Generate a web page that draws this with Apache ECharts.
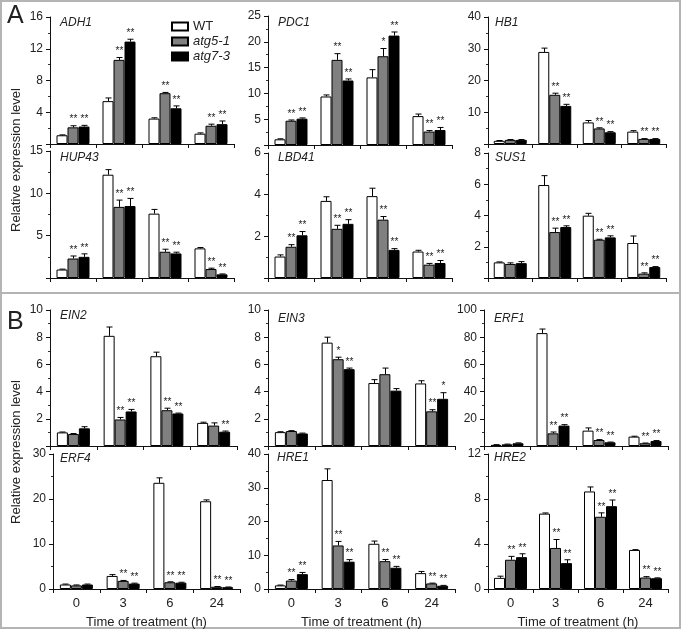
<!DOCTYPE html>
<html><head><meta charset="utf-8">
<script src="https://cdn.jsdelivr.net/npm/echarts@6/dist/echarts.min.js"></script>
<style>html,body{margin:0;padding:0;background:#fff}#c{width:682px;height:630px}</style>
</head><body><div id="c"></div>
<script>
const categories = ['0', '3', '6', '24'];
const seriesNames = ['WT', 'atg5-1', 'atg7-3'];

// means: [WT], [atg5-1], [atg7-3] over categories
const ADH1_mean = [[1.1, 5.4, 3.2, 1.3], [2.1, 10.6, 6.4, 2.3], [2.2, 12.9, 4.5, 2.5]];
const ADH1_err  = [[0.05, 0.4, 0.1, 0.1], [0.2, 0.3, 0.1, 0.2], [0.15, 0.3, 0.3, 0.4]];
const ADH1_sig  = [['', '', '', ''], ['**', '**', '**', '**'], ['**', '**', '**', '**']];

const PDC1_mean = [[1.1, 9.4, 13.1, 5.6], [4.7, 16.5, 17.2, 2.6], [5.1, 12.5, 21.2, 2.9]];
const PDC1_err  = [[0.1, 0.3, 1.5, 0.4], [0.15, 1.2, 1.5, 0.2], [0.15, 0.3, 0.7, 0.5]];
const PDC1_sig  = [['', '', '', ''], ['**', '**', '*', '**'], ['**', '**', '**', '**']];

const HB1_mean = [[1.0, 29.0, 6.8, 3.9], [1.3, 15.5, 4.9, 1.6], [1.3, 12.0, 3.7, 1.6]];
const HB1_err  = [[0.1, 1.2, 0.6, 0.3], [0.1, 0.5, 0.2, 0.1], [0.1, 0.5, 0.2, 0.1]];
const HB1_sig  = [['', '', '', ''], ['', '**', '**', '**'], ['', '**', '**', '**']];

const HUP43_mean = [[1.0, 12.2, 7.6, 3.5], [2.3, 8.4, 3.1, 1.06], [2.5, 8.5, 2.9, 0.43]];
const HUP43_err  = [[0.05, 0.6, 0.5, 0.1], [0.3, 0.8, 0.3, 0.1], [0.35, 0.9, 0.15, 0.05]];
const HUP43_sig  = [['', '', '', ''], ['**', '**', '**', '**'], ['**', '**', '**', '**']];

const LBD41_mean = [[1.03, 3.7, 3.93, 1.27], [1.5, 2.36, 2.8, 0.64], [2.05, 2.6, 1.35, 0.72]];
const LBD41_err  = [[0.08, 0.2, 0.38, 0.06], [0.1, 0.17, 0.15, 0.06], [0.18, 0.2, 0.06, 0.12]];
const LBD41_sig  = [['', '', '', ''], ['**', '**', '**', '**'], ['**', '**', '**', '**']];

const SUS1_mean = [[1.0, 5.95, 3.99, 2.24], [0.9, 2.94, 2.45, 0.28], [0.95, 3.26, 2.6, 0.7]];
const SUS1_err  = [[0.03, 0.6, 0.15, 0.45], [0.07, 0.25, 0.03, 0.05], [0.1, 0.08, 0.1, 0.03]];
const SUS1_sig  = [['', '', '', ''], ['', '**', '**', '**'], ['', '**', '**', '**']];

const EIN2_mean = [[1.0, 8.1, 6.6, 1.7], [0.88, 1.95, 2.63, 1.5], [1.3, 2.54, 2.39, 1.05]];
const EIN2_err  = [[0.03, 0.65, 0.3, 0.05], [0.04, 0.15, 0.15, 0.2], [0.12, 0.15, 0.03, 0.05]];
const EIN2_sig  = [['', '', '', ''], ['', '**', '**', ''], ['', '**', '**', '**']];

const EIN3_mean = [[1.02, 7.6, 4.63, 4.6], [1.1, 6.38, 5.28, 2.55], [0.92, 5.65, 4.07, 3.47]];
const EIN3_err  = [[0.03, 0.4, 0.25, 0.2], [0.03, 0.15, 0.45, 0.12], [0.03, 0.08, 0.15, 0.45]];
const EIN3_sig  = [['', '', '', ''], ['', '*', '', '**'], ['', '**', '', '*']];

const ERF1_mean = [[0.8, 83, 11.3, 6.9], [1.2, 9.3, 4.4, 2.0], [2.0, 15, 2.7, 3.7]];
const ERF1_err  = [[0.2, 3, 2, 0.3], [0.2, 1, 0.3, 0.2], [0.3, 0.7, 0.2, 0.3]];
const ERF1_sig  = [['', '', '', ''], ['', '**', '**', '**'], ['', '**', '**', '**']];

const ERF4_mean = [[1.0, 2.9, 23.6, 19.5], [0.8, 1.8, 1.5, 0.5], [1.0, 1.2, 1.4, 0.4]];
const ERF4_err  = [[0.1, 0.3, 1.1, 0.3], [0.1, 0.1, 0.1, 0.05], [0.1, 0.1, 0.1, 0.05]];
const ERF4_sig  = [['', '', '', ''], ['', '**', '**', '**'], ['', '**', '**', '**']];

const HRE1_mean = [[1.07, 32.3, 13.4, 4.7], [2.5, 12.9, 8.25, 1.65], [4.4, 8.1, 6.3, 0.97]];
const HRE1_err  = [[0.1, 3.3, 0.8, 0.5], [0.3, 1.2, 0.5, 0.1], [0.5, 0.6, 0.4, 0.1]];
const HRE1_sig  = [['', '', '', ''], ['**', '**', '**', '**'], ['**', '**', '**', '**']];

const HRE2_mean = [[0.99, 6.7, 8.67, 3.47], [2.6, 3.65, 6.42, 1.02], [2.83, 2.3, 7.36, 0.96]];
const HRE2_err  = [[0.15, 0.06, 0.4, 0.03], [0.3, 0.75, 0.35, 0.08], [0.3, 0.3, 0.55, 0.03]];
const HRE2_sig  = [['', '', '', ''], ['**', '**', '**', '**'], ['**', '**', '**', '**']];

// y-axis ranges (max, interval)
const yMax = {ADH1: 16, PDC1: 25, HB1: 40, HUP43: 15, LBD41: 6, SUS1: 8, EIN2: 10, EIN3: 10, ERF1: 100, ERF4: 30, HRE1: 40, HRE2: 12};
const yInterval = {ADH1: 4, PDC1: 5, HB1: 10, HUP43: 5, LBD41: 2, SUS1: 2, EIN2: 2, EIN3: 2, ERF1: 20, ERF4: 10, HRE1: 10, HRE2: 4};

const panels = [
  {gene: 'ADH1', mean: ADH1_mean, err: ADH1_err, sig: ADH1_sig, grid: [50, 17, 184, 127], lab: [60, 24], zero: false, xl: false},
  {gene: 'PDC1', mean: PDC1_mean, err: PDC1_err, sig: PDC1_sig, grid: [268, 16, 184, 129], lab: [278, 24], zero: false, xl: false},
  {gene: 'HB1', mean: HB1_mean, err: HB1_err, sig: HB1_sig, grid: [488, 17, 178, 127], lab: [495, 24], zero: false, xl: false},
  {gene: 'HUP43', mean: HUP43_mean, err: HUP43_err, sig: HUP43_sig, grid: [50, 151, 184, 127], lab: [60, 159], zero: false, xl: false},
  {gene: 'LBD41', mean: LBD41_mean, err: LBD41_err, sig: LBD41_sig, grid: [268, 153, 184, 125], lab: [278, 159], zero: false, xl: false},
  {gene: 'SUS1', mean: SUS1_mean, err: SUS1_err, sig: SUS1_sig, grid: [488, 153, 178, 125], lab: [495, 159], zero: false, xl: false},
  {gene: 'EIN2', mean: EIN2_mean, err: EIN2_err, sig: EIN2_sig, grid: [50, 310, 187, 136], lab: [60, 317], zero: false, xl: false},
  {gene: 'EIN3', mean: EIN3_mean, err: EIN3_err, sig: EIN3_sig, grid: [268, 310, 187, 136], lab: [278, 320], zero: false, xl: false},
  {gene: 'ERF1', mean: ERF1_mean, err: ERF1_err, sig: ERF1_sig, grid: [484, 310, 184, 136], lab: [494, 320], zero: false, xl: false},
  {gene: 'ERF4', mean: ERF4_mean, err: ERF4_err, sig: ERF4_sig, grid: [53, 454, 187, 136], lab: [60, 460], zero: true, xl: true},
  {gene: 'HRE1', mean: HRE1_mean, err: HRE1_err, sig: HRE1_sig, grid: [268, 454, 187, 137], lab: [277, 459], zero: true, xl: true},
  {gene: 'HRE2', mean: HRE2_mean, err: HRE2_err, sig: HRE2_sig, grid: [488, 454, 180, 137], lab: [494, 459], zero: true, xl: true}
];

const BW = 11;
const FONT = 'Arial, "Liberation Sans", sans-serif';
const barColors = ['#ffffff', '#808080', '#000000'];

const grids = [], xAxes = [], yAxes = [], series = [], graphics = [];

panels.forEach((p, i) => {
  grids.push({left: p.grid[0], top: p.grid[1], width: p.grid[2], height: p.grid[3]});
  xAxes.push({
    type: 'category', gridIndex: i, data: categories,
    axisLine: {lineStyle: {color: '#111', width: 1}},
    axisTick: {show: true, length: 4, lineStyle: {color: '#111'}},
    axisLabel: {show: p.xl, fontSize: 13, color: '#222', fontFamily: FONT, margin: 8},
    name: p.xl ? 'Time of treatment (h)' : '', nameLocation: 'middle', nameGap: 27,
    nameTextStyle: {fontSize: 13, color: '#222', fontFamily: FONT}
  });
  yAxes.push({
    type: 'value', gridIndex: i, min: 0, max: yMax[p.gene], interval: yInterval[p.gene],
    splitLine: {show: false},
    axisLine: {show: true, lineStyle: {color: '#111', width: 1}},
    axisTick: {show: true, length: 4, lineStyle: {color: '#111'}},
    minorTick: {show: true, splitNumber: 2, length: 2, lineStyle: {color: '#333'}},
    axisLabel: {fontSize: 12, color: '#222', fontFamily: FONT, margin: 7, showMinLabel: p.zero}
  });
  for (let s = 0; s < 3; s++) {
    series.push({
      type: 'bar', name: seriesNames[s], xAxisIndex: i, yAxisIndex: i,
      data: p.mean[s], barWidth: BW, barGap: '0%',
      itemStyle: {color: barColors[s], borderColor: '#000', borderWidth: 1},
      emphasis: {disabled: true}, animation: false, z: 2
    });
  }
  const edata = [];
  for (let s = 0; s < 3; s++) for (let c = 0; c < 4; c++) edata.push([c, s, p.mean[s][c], p.err[s][c]]);
  const sigs = p.sig;
  series.push({
    type: 'custom', xAxisIndex: i, yAxisIndex: i, data: edata, z: 5, animation: false, silent: true,
    encode: {x: 0, y: 2},
    renderItem: function (params, api) {
      const c = api.value(0), s = api.value(1), m = api.value(2), e = api.value(3);
      const base = api.coord([c, m]);
      const x = Math.round(base[0] + (s - 1) * BW) + 0.5;
      const yT = api.coord([c, m + e])[1];
      const children = [
        {type: 'line', shape: {x1: x, y1: base[1], x2: x, y2: yT}, style: {stroke: '#000', lineWidth: 1}},
        {type: 'line', shape: {x1: x - 3, y1: yT, x2: x + 3, y2: yT}, style: {stroke: '#000', lineWidth: 1}}
      ];
      const t = sigs[s][c];
      if (t) children.push({type: 'text', x: x, y: yT - 1, style: {text: t, fontSize: 10, fontFamily: FONT, fill: '#222', align: 'center', verticalAlign: 'bottom'}});
      return {type: 'group', children: children};
    }
  });
  graphics.push({type: 'text', left: p.lab[0], top: p.lab[1] - 7, style: {text: p.gene, fontSize: 12, fontStyle: 'italic', fontFamily: FONT, fill: '#222'}});
});

graphics.push(
  {type: 'rect', shape: {x: 1, y: 1, width: 679, height: 292}, style: {fill: 'none', stroke: '#b4b4b4', lineWidth: 2}, z: 0},
  {type: 'rect', shape: {x: 1, y: 293, width: 679, height: 335}, style: {fill: 'none', stroke: '#b4b4b4', lineWidth: 2}, z: 0},
  {type: 'text', left: 7, top: 4, style: {text: 'A', fontSize: 25, fontFamily: FONT, fill: '#222'}},
  {type: 'text', left: 7, top: 310, style: {text: 'B', fontSize: 25, fontFamily: FONT, fill: '#222'}},
  {type: 'text', x: 16, y: 160, rotation: Math.PI / 2, style: {text: 'Relative expression level', fontSize: 13, fontFamily: FONT, fill: '#222', align: 'center', verticalAlign: 'middle'}},
  {type: 'text', x: 16, y: 452, rotation: Math.PI / 2, style: {text: 'Relative expression level', fontSize: 13, fontFamily: FONT, fill: '#222', align: 'center', verticalAlign: 'middle'}}
);

const chart = echarts.init(document.getElementById('c'), null, {renderer: 'canvas'});
chart.setOption({
  animation: false,
  grid: grids, xAxis: xAxes, yAxis: yAxes, series: series, graphic: graphics,
  legend: {
    data: seriesNames, orient: 'vertical', left: 166, top: 15, itemWidth: 16, itemHeight: 8, itemGap: 2,
    icon: 'rect', selectedMode: false,
    textStyle: {fontSize: 13, color: '#222', fontFamily: FONT, rich: {i: {fontStyle: 'italic', fontSize: 13, fontFamily: FONT, color: '#222'}}},
    formatter: n => n === 'WT' ? n : '{i|' + n + '}'
  }
});
</script></body></html>
